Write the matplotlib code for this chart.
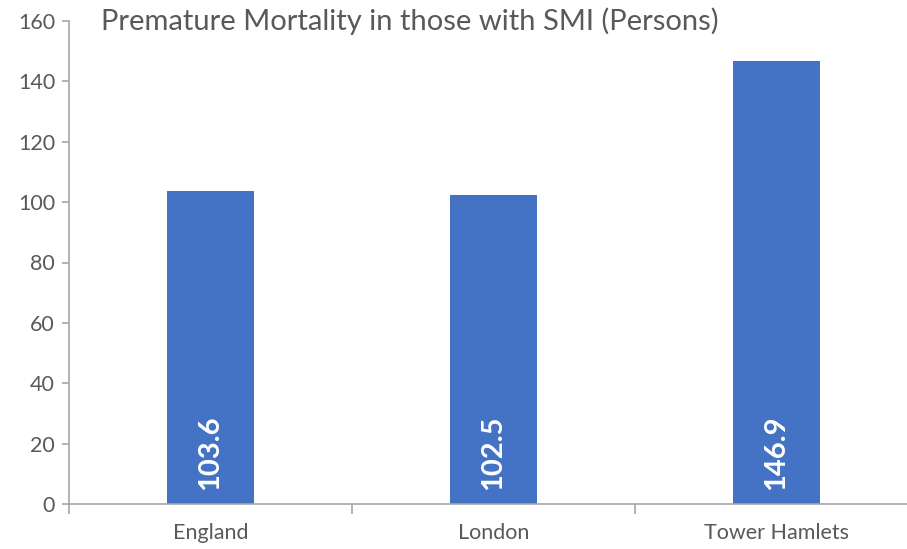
import matplotlib
matplotlib.use("Agg")
import matplotlib.pyplot as plt
from matplotlib.ticker import FixedLocator

categories = ["England", "London", "Tower Hamlets"]
values = [103.6, 102.5, 146.9]
labels = ["103.6", "102.5", "146.9"]
yticks = [0, 20, 40, 60, 80, 100, 120, 140, 160]
title = "Premature Mortality in those with SMI (Persons)"

plt.rcParams['font.family'] = ['Lato', 'DejaVu Sans']

fig = plt.figure(figsize=(9.07, 5.49), dpi=100)
ax = fig.add_axes([69/907, 1-504/549, 849/907, (504-21)/549])

x = list(range(len(categories)))
bars = ax.bar(x, values, width=0.31, color="#4472C4")
ax.set_xlim(-0.5, 2.5)
ax.set_ylim(0, 160)
ax.set_yticks(yticks)
ax.set_xticks(x)
ax.set_xticklabels(categories)
ax.xaxis.set_minor_locator(FixedLocator([-0.5, 0.5, 1.5, 2.5]))

gray = "#595959"
spine_c = "#A6A6A6"
for s in ["top", "right"]:
    ax.spines[s].set_visible(False)
for s in ["left", "bottom"]:
    ax.spines[s].set_color(spine_c)
    ax.spines[s].set_linewidth(1.2)
ax.tick_params(axis="y", colors=spine_c, labelcolor=gray, labelsize=15.5, length=5, width=1.2, pad=5)
ax.tick_params(axis="x", which="major", length=0, labelcolor=gray, labelsize=15.5, pad=14)
ax.tick_params(axis="x", which="minor", length=7, width=1.2, colors=spine_c)

for xi, v, lab in zip(x, values, labels):
    ax.text(xi, 4.5, lab, rotation=90, ha="center", va="bottom", color="white",
            fontsize=21, fontweight="bold")

ax.text(32/849, 1.0, title, transform=ax.transAxes, ha="left", va="center",
        fontsize=21, color=gray)

fig.savefig("out.png", dpi=100)
